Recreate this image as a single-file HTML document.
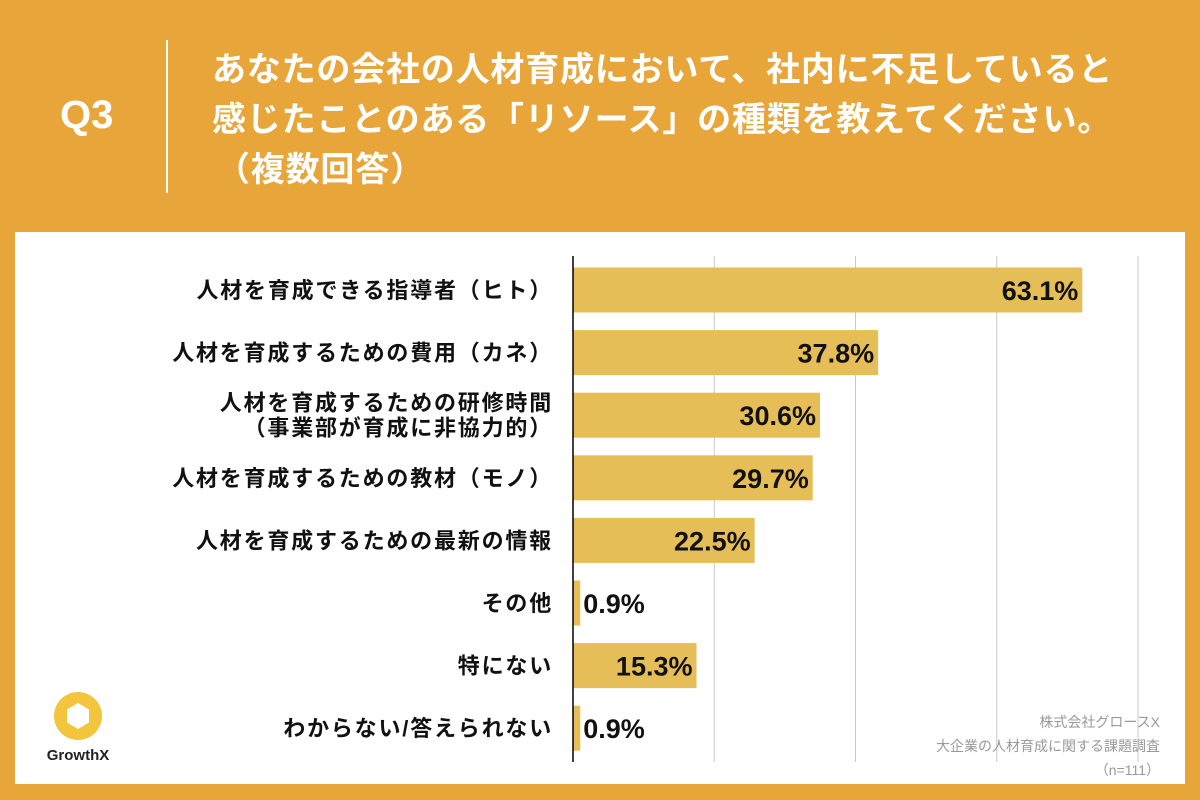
<!DOCTYPE html>
<html><head><meta charset="utf-8"><style>
body{margin:0;width:1200px;height:800px;background:#E8A63A;position:relative;overflow:hidden;font-family:"Liberation Sans","Noto Sans CJK JP",sans-serif}
.abs{position:absolute}
</style></head><body>
<div class="abs" style="left:60px;top:93px;font-size:40px;font-weight:bold;color:#fff">Q3</div>
<div class="abs" style="left:166px;top:40px;width:2px;height:153px;background:#fff"></div>
<div class="abs" style="left:212px;top:45px;font-size:34px;font-weight:bold;color:#fff;line-height:50px;white-space:nowrap;letter-spacing:0.8px">あなたの会社の人材育成において、社内に不足していると<br>感じたことのある「リソース」の種類を教えてください。<br><span style="margin-left:4px">（複数回答）</span></div>
<div class="abs" style="left:15px;top:232px;width:1170px;height:552px;background:#fff"></div>
<svg class="abs" style="left:0;top:0" width="1200" height="800" id="chart"></svg>
<div class="abs" style="left:38px;top:690px;width:80px;text-align:center">
<svg width="52" height="52" viewBox="0 0 52 52"><circle cx="26" cy="26" r="24" fill="#F2C53D"/><polygon points="26,13 37,19.5 37,32.5 26,39 15,32.5 15,19.5" fill="#fff"/></svg>
<div style="font-size:15px;font-weight:bold;color:#222">GrowthX</div></div>
<div class="abs" style="right:40px;top:710px;text-align:right;font-size:14px;color:#999;line-height:24px">株式会社グロースX<br>大企業の人材育成に関する課題調査<br>（n=111）</div>
<script>
const categories=["人材を育成できる指導者（ヒト）","人材を育成するための費用（カネ）","人材を育成するための研修時間\n（事業部が育成に非協力的）","人材を育成するための教材（モノ）","人材を育成するための最新の情報","その他","特にない","わからない/答えられない"];
const values=[63.1,37.8,30.6,29.7,22.5,0.9,15.3,0.9];
const gridTicks=[17.5,35,52.5,70];
const svg=document.getElementById('chart');
const NS='http://www.w3.org/2000/svg';
const x0=573,pxPer=(1138-573)/70;
const xs=v=>x0+v*pxPer;
const yc=i=>290+i*62.6;
function mk(t,a){const e=document.createElementNS(NS,t);for(const k in a)e.setAttribute(k,a[k]);svg.appendChild(e);return e;}
gridTicks.forEach(t=>{const l=mk('line',{x1:xs(t),x2:xs(t),y1:256,y2:762,stroke:'#c8c8c8','stroke-width':1});

});
values.forEach((v,i)=>{
const r=mk('rect',{x:x0,y:yc(i)-22.5,width:xs(v)-x0,height:45,fill:'#E6BE57'});


const big=v>10;
const t=mk('text',{x:big?xs(v)-4:xs(v)+3,y:yc(i)+10,'text-anchor':big?'end':'start','font-size':27,'font-weight':'bold',fill:'#111'});
t.textContent=v.toFixed(1)+'%';


const lines=categories[i].split('\n');
lines.forEach((s,j)=>{const c=mk('text',{x:553,y:yc(i)+8+(j-(lines.length-1)/2)*25,'text-anchor':'end','font-size':22,'font-weight':'bold',fill:'#111','letter-spacing':1.8});
c.textContent=s;

});
});
const ax=mk('line',{x1:x0,x2:x0,y1:256,y2:762,stroke:'#000','stroke-width':1.5});


</script>
</body></html>
